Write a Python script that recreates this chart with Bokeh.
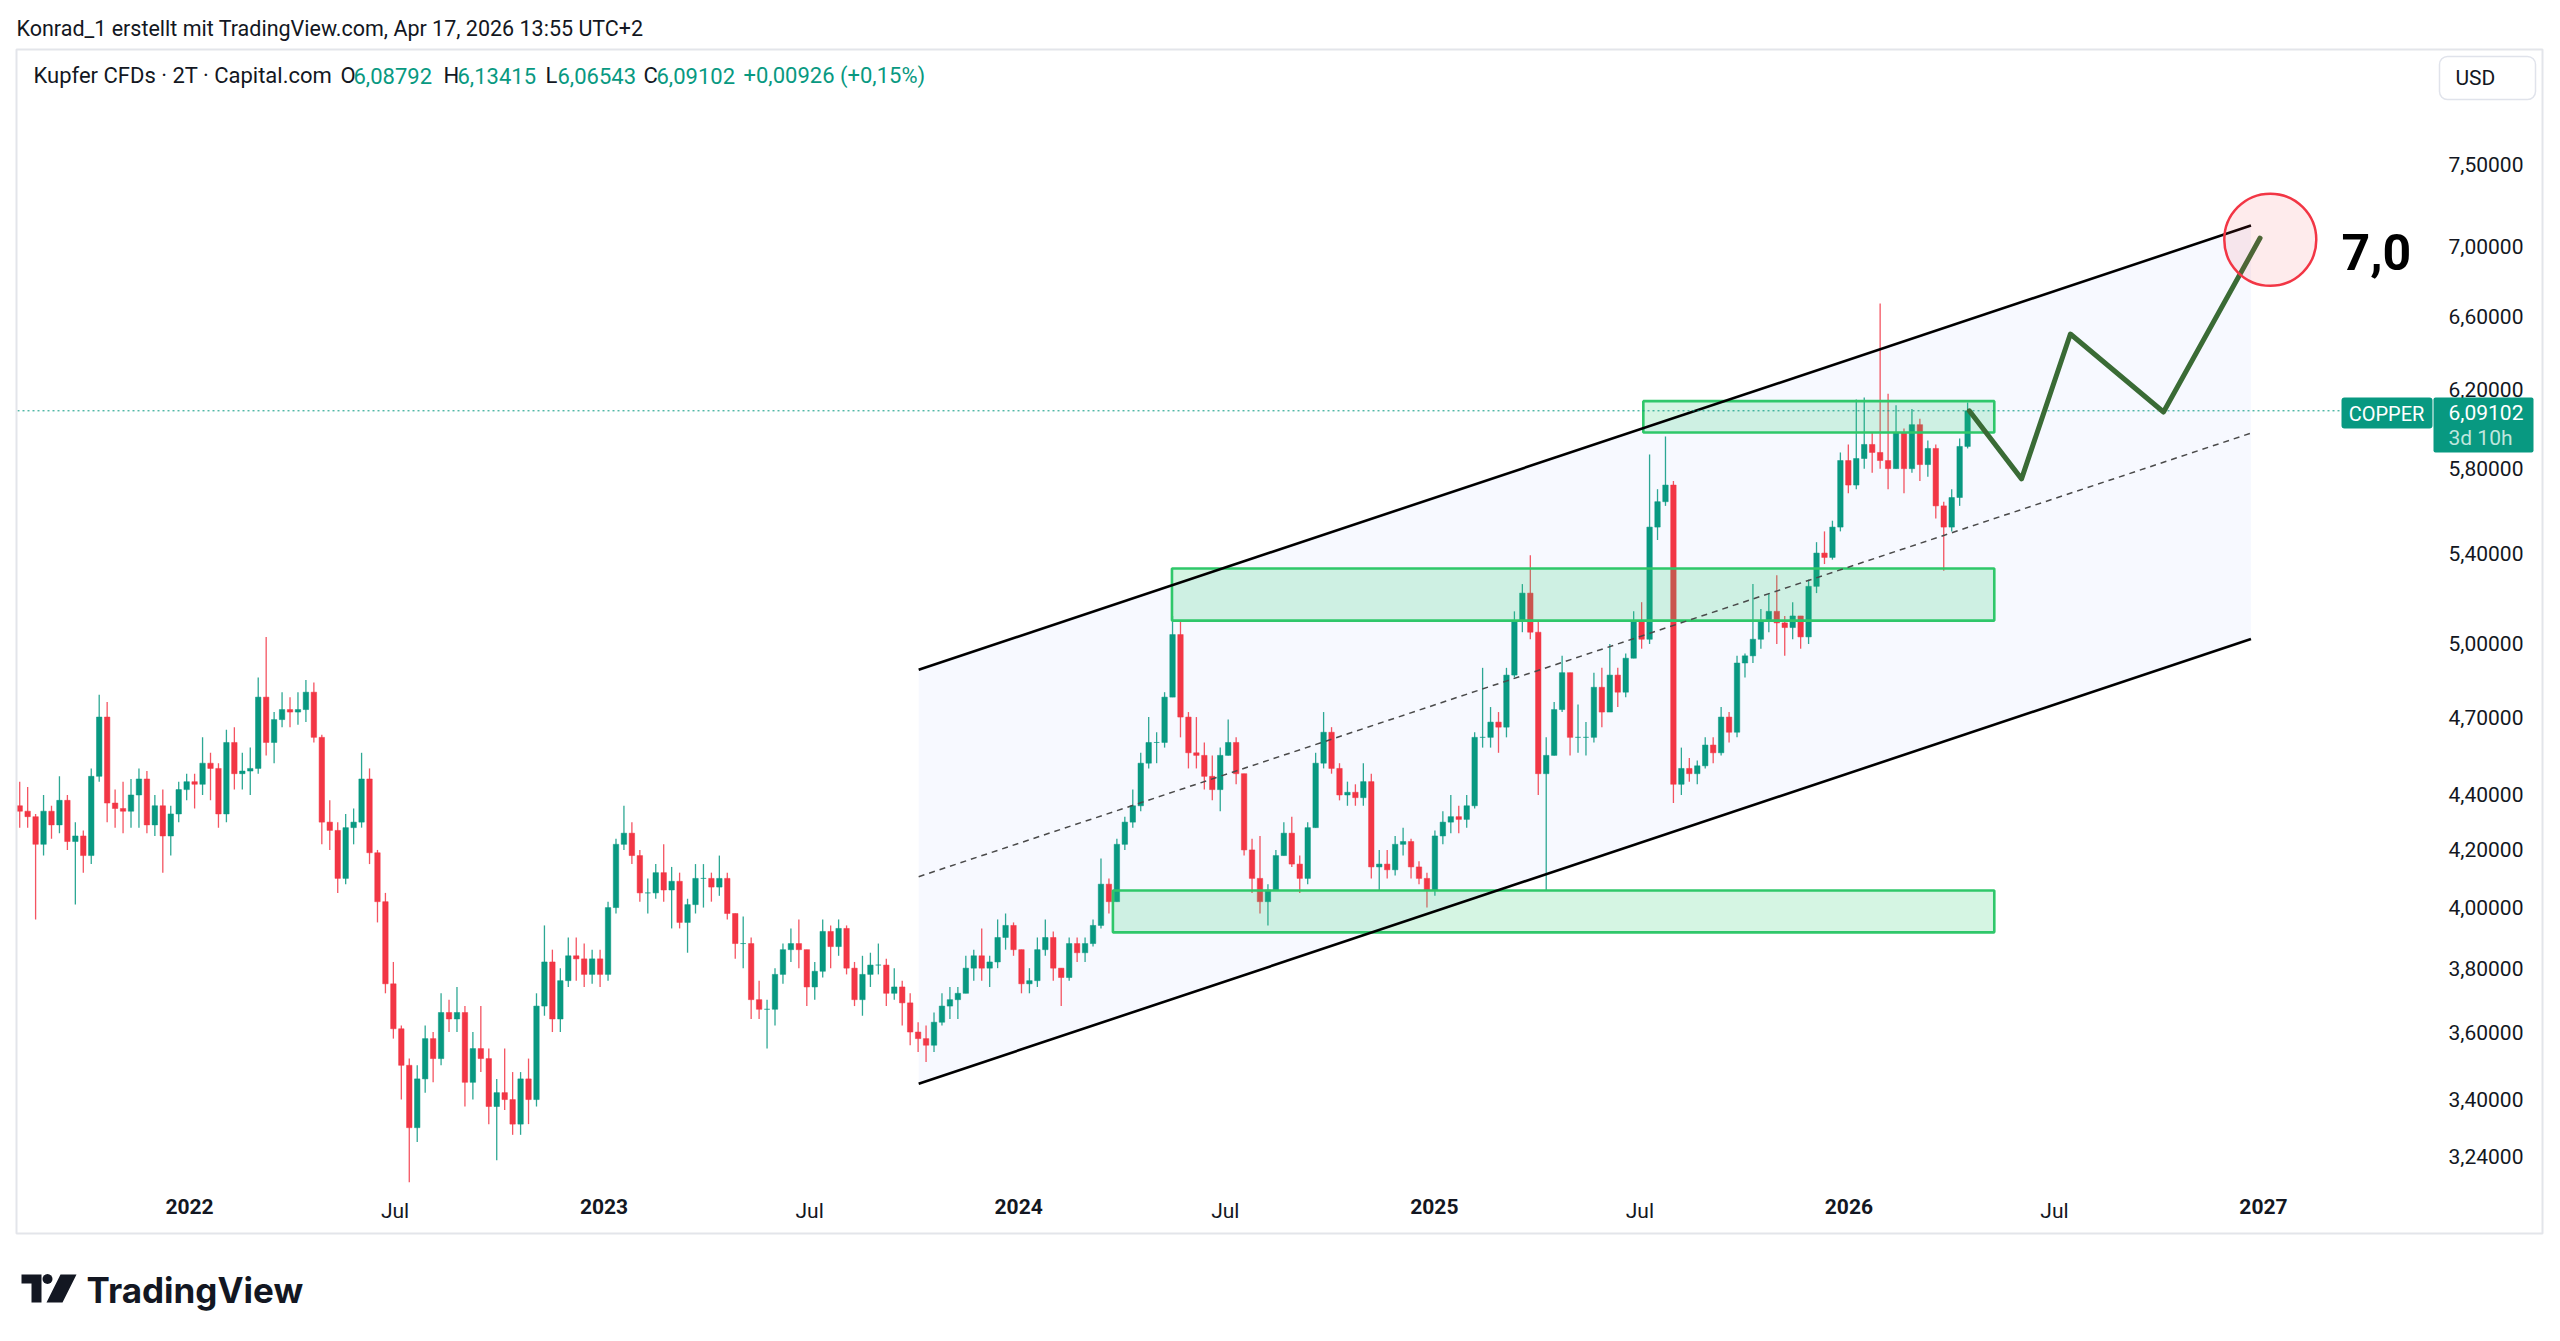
import math
import pandas as pd
from bokeh.plotting import figure
from bokeh.models import (Range1d, FixedTicker, CustomJSTickFormatter, DatetimeAxis, Label,
                          BoxAnnotation, PolyAnnotation, ColumnDataSource)
from bokeh.embed import file_html
from bokeh.resources import INLINE

# ---------------- texts ----------------
header_text = "Konrad_1 erstellt mit TradingView.com, Apr 17, 2026 13:55 UTC+2"
symbol_title = "Kupfer CFDs · 2T · Capital.com"
ticker_name = "COPPER"
bar_countdown = "3d 10h"
currency = "USD"

# ---------------- weekly copper candles (USD) ----------------
week_start = "2021-08-02"          # Monday of the first weekly candle
first_open = 4.36

close_2021 = [4.34, 4.32, 4.22, 4.34, 4.29, 4.38, 4.23, 4.25, 4.18, 4.47, 4.70, 4.37, 4.35, 4.34,
              4.40, 4.46, 4.29, 4.36, 4.25, 4.33, 4.42, 4.45]
high_2021 = [4.45, 4.43, 4.33, 4.40, 4.36, 4.47, 4.40, 4.30, 4.27, 4.50, 4.79, 4.76, 4.42, 4.45,
             4.46, 4.50, 4.49, 4.40, 4.42, 4.36, 4.45, 4.48]
low_2021 = [4.28, 4.28, 3.96, 4.18, 4.24, 4.26, 4.20, 4.01, 4.12, 4.15, 4.45, 4.30, 4.28, 4.26,
            4.28, 4.28, 4.26, 4.25, 4.12, 4.18, 4.30, 4.38]

close_2022 = [4.44, 4.52, 4.50, 4.33, 4.60, 4.48, 4.49, 4.50, 4.78, 4.60, 4.69, 4.73, 4.72, 4.73,
              4.80, 4.62, 4.30, 4.27, 4.10, 4.28, 4.30, 4.46, 4.19, 4.02, 3.75, 3.61, 3.50, 3.32,
              3.46, 3.58, 3.52, 3.66, 3.64, 3.66, 3.45, 3.55, 3.52, 3.38, 3.42, 3.40, 3.33, 3.46,
              3.40, 3.68, 3.82, 3.64, 3.76, 3.84, 3.83, 3.78, 3.83, 3.78]
high_2022 = [4.48, 4.62, 4.56, 4.52, 4.65, 4.66, 4.56, 4.58, 4.86, 5.03, 4.72, 4.80, 4.78, 4.80,
             4.85, 4.84, 4.63, 4.38, 4.30, 4.33, 4.35, 4.56, 4.50, 4.20, 4.05, 3.82, 3.62, 3.52,
             3.50, 3.62, 3.60, 3.72, 3.70, 3.74, 3.68, 3.60, 3.68, 3.55, 3.46, 3.55, 3.48, 3.48,
             3.52, 3.72, 3.94, 3.86, 3.80, 3.90, 3.90, 3.88, 3.86, 3.86]
low_2022 = [4.35, 4.40, 4.38, 4.28, 4.30, 4.42, 4.42, 4.40, 4.48, 4.55, 4.52, 4.66, 4.66, 4.67,
            4.68, 4.60, 4.22, 4.20, 4.05, 4.08, 4.22, 4.28, 4.15, 3.95, 3.72, 3.58, 3.40, 3.17,
            3.28, 3.42, 3.45, 3.50, 3.60, 3.60, 3.38, 3.40, 3.48, 3.33, 3.23, 3.37, 3.30, 3.30,
            3.33, 3.38, 3.65, 3.60, 3.60, 3.74, 3.76, 3.74, 3.75, 3.74]

close_2023 = [4.00, 4.22, 4.26, 4.18, 4.05, 4.05, 4.12, 4.06, 4.09, 3.95, 4.01, 4.10, 4.10, 4.07,
              4.10, 3.98, 3.88, 3.88, 3.70, 3.67, 3.67, 3.78, 3.86, 3.88, 3.86, 3.74, 3.79, 3.92,
              3.87, 3.93, 3.80, 3.70, 3.78, 3.81, 3.81, 3.72, 3.74, 3.69, 3.60, 3.58, 3.56, 3.63,
              3.68, 3.70, 3.72, 3.80, 3.84, 3.80, 3.82, 3.90, 3.94, 3.86]
high_2023 = [4.02, 4.24, 4.36, 4.30, 4.20, 4.10, 4.15, 4.22, 4.14, 4.12, 4.03, 4.15, 4.15, 4.12,
             4.18, 4.12, 3.98, 3.97, 3.90, 3.76, 3.70, 3.80, 3.88, 3.93, 3.96, 3.86, 3.82, 3.96,
             3.94, 3.96, 3.94, 3.82, 3.84, 3.85, 3.88, 3.83, 3.80, 3.76, 3.72, 3.63, 3.62, 3.66,
             3.72, 3.74, 3.74, 3.84, 3.86, 3.93, 3.84, 3.96, 3.98, 3.95]
low_2023 = [3.76, 3.98, 4.20, 4.15, 4.02, 3.98, 4.03, 4.02, 3.93, 3.93, 3.85, 3.98, 4.00, 4.02,
            4.04, 3.96, 3.83, 3.80, 3.64, 3.64, 3.55, 3.62, 3.75, 3.82, 3.80, 3.68, 3.70, 3.77,
            3.80, 3.84, 3.78, 3.68, 3.65, 3.74, 3.78, 3.68, 3.70, 3.62, 3.56, 3.54, 3.51, 3.54,
            3.62, 3.64, 3.64, 3.72, 3.76, 3.76, 3.74, 3.80, 3.86, 3.84]

close_2024 = [3.75, 3.76, 3.86, 3.90, 3.80, 3.77, 3.88, 3.85, 3.88, 3.94, 4.08, 4.02, 4.22, 4.30,
              4.36, 4.52, 4.60, 4.60, 4.78, 5.04, 4.70, 4.56, 4.55, 4.47, 4.42, 4.55, 4.60, 4.48,
              4.20, 4.10, 4.02, 4.06, 4.18, 4.26, 4.15, 4.10, 4.28, 4.52, 4.64, 4.50, 4.40, 4.41,
              4.39, 4.45, 4.14, 4.15, 4.13, 4.22, 4.23, 4.14, 4.10, 4.06, 4.25]
high_2024 = [3.86, 3.80, 3.90, 3.96, 3.92, 3.80, 3.90, 3.90, 3.90, 3.96, 4.17, 4.10, 4.24, 4.32,
             4.42, 4.56, 4.70, 4.64, 4.80, 5.12, 5.10, 4.72, 4.70, 4.60, 4.55, 4.58, 4.69, 4.62,
             4.48, 4.24, 4.25, 4.08, 4.20, 4.30, 4.32, 4.18, 4.30, 4.56, 4.72, 4.66, 4.52, 4.45,
             4.44, 4.52, 4.48, 4.20, 4.20, 4.25, 4.28, 4.24, 4.16, 4.12, 4.27]
low_2024 = [3.72, 3.72, 3.74, 3.84, 3.76, 3.68, 3.76, 3.82, 3.82, 3.87, 3.93, 3.98, 4.02, 4.20,
            4.28, 4.34, 4.50, 4.52, 4.58, 4.78, 4.62, 4.50, 4.50, 4.42, 4.38, 4.34, 4.55, 4.44,
            4.18, 4.05, 3.98, 3.94, 4.06, 4.18, 4.14, 4.05, 4.08, 4.30, 4.50, 4.48, 4.38, 4.36,
            4.36, 4.36, 4.10, 4.06, 4.10, 4.11, 4.18, 4.10, 4.08, 4.00, 4.04]

close_2025 = [4.30, 4.32, 4.31, 4.36, 4.62, 4.62, 4.68, 4.66, 4.87, 5.10, 5.22, 5.05, 4.48, 4.55,
              4.73, 4.88, 4.62, 4.62, 4.62, 4.82, 4.72, 4.87, 4.80, 4.94, 5.10, 5.02, 5.52, 5.64,
              5.72, 4.44, 4.50, 4.48, 4.51, 4.59, 4.56, 4.70, 4.64, 4.92, 4.95, 5.02, 5.10, 5.14,
              5.09, 5.07, 5.12, 5.03, 5.25, 5.40, 5.38, 5.52, 5.84, 5.72]
high_2025 = [4.34, 4.40, 4.36, 4.40, 4.64, 4.90, 4.74, 4.72, 4.90, 5.14, 5.26, 5.39, 5.10, 4.62,
             4.76, 4.95, 4.88, 4.75, 4.68, 4.88, 4.90, 5.00, 4.90, 4.96, 5.14, 5.18, 5.87, 5.70,
             5.96, 5.74, 4.58, 4.54, 4.53, 4.62, 4.62, 4.74, 4.72, 4.95, 4.96, 5.26, 5.15, 5.22,
             5.30, 5.12, 5.18, 5.10, 5.28, 5.45, 5.50, 5.55, 5.88, 5.92]
low_2025 = [4.22, 4.26, 4.26, 4.28, 4.35, 4.58, 4.58, 4.56, 4.62, 4.86, 5.05, 5.02, 4.40, 4.06,
            4.56, 4.72, 4.55, 4.56, 4.55, 4.60, 4.66, 4.72, 4.74, 4.78, 4.94, 4.98, 5.00, 5.46,
            5.62, 4.37, 4.40, 4.45, 4.44, 4.50, 4.52, 4.55, 4.60, 4.62, 4.86, 4.92, 4.98, 5.05,
            5.00, 4.95, 5.02, 4.98, 5.00, 5.22, 5.35, 5.37, 5.50, 5.68]

close_2026 = [5.85, 5.92, 5.88, 5.84, 5.80, 5.98, 5.80, 6.02, 5.82, 5.90, 5.62, 5.52, 5.66, 5.91,
              6.09102]
high_2026 = [6.15, 6.16, 5.98, 6.67, 6.18, 6.12, 6.00, 6.10, 6.05, 5.94, 5.92, 5.64, 5.70, 5.95,
             6.13415]
low_2026 = [5.70, 5.80, 5.78, 5.80, 5.70, 5.80, 5.68, 5.78, 5.74, 5.76, 5.56, 5.32, 5.50, 5.62,
            5.90]

# values of the current 2-day bar shown in the legend
last_open, last_high, last_low, last_close = 6.08792, 6.13415, 6.06543, 6.09102
change_abs, change_pct = 0.00926, 0.15

# ---------------- axis ticks ----------------
price_ticks = [3.24, 3.40, 3.60, 3.80, 4.00, 4.20, 4.40, 4.70, 5.00, 5.40, 5.80, 6.20, 6.60, 7.00, 7.50]
year_ticks = ["2022-01-01", "2023-01-01", "2024-01-01", "2025-01-01", "2026-01-01", "2027-01-01"]
mid_year_ticks = ["2022-07-01", "2023-07-01", "2024-07-01", "2025-07-01", "2026-07-01"]

# ---------------- drawings ----------------
channel_dates = ["2023-10-05", "2026-12-21"]
channel_upper = [4.892, 7.125]
channel_lower = [3.446, 5.021]
channel_mid = [4.106, 5.977]

zone_start = ["2025-07-04", "2024-05-15", "2024-03-24"]
zone_end = ["2026-05-09", "2026-05-09", "2026-05-09"]
zone_top = [6.141, 5.330, 4.058]
zone_bottom = [5.980, 5.100, 3.917]

path_dates = ["2026-04-17", "2026-06-02", "2026-07-15", "2026-10-05", "2026-12-29"]
path_prices = [6.09102, 5.75, 6.50, 6.085, 7.05]

target_date = "2027-01-07"
target_price = 7.04
target_label = "7,0"

# ---------------- layout ----------------
# The plot frame fills the whole page; the axes draw their labels back inside it
W, H = 2560, 1341
X2022, PX_DAY = 189.0, 1.1358              # page x of 1 Jan 2022, pixels per day
Y0, KY = 2544.7, 1181.3                    # page y = Y0 - KY * ln(price)
PANE_LEFT = 17                             # left edge of the chart pane
TIME_LABEL_TOP = 1198                      # page y of the top of the date labels
PRICE_LABEL_LEFT = 2448                    # page x where the price labels start

UP, DOWN = "#089981", "#f23645"
INK = "#131722"
FONT = "Roboto"
EPOCH = pd.Timestamp("2022-01-01")


def ms(ts):
    return pd.Timestamp(ts).value / 1e6


def x_at(px):
    return ms(EPOCH + pd.Timedelta(days=(px - X2022) / PX_DAY))


def price_at(py):
    return math.exp((Y0 - py) / KY)


def sx(px):
    return px


def sy(py):
    return H - py


p = figure(width=W, height=H, x_axis_type="datetime", y_axis_type="log", y_axis_location="right",
           x_range=Range1d(x_at(0), x_at(W)), y_range=Range1d(price_at(H), price_at(0)),
           output_backend="svg", toolbar_location=None,
           min_border_left=0, min_border_right=0, min_border_top=0, min_border_bottom=0,
           background_fill_color="white", border_fill_color="white")
p.outline_line_color = None
p.grid.visible = False

# ---- price axis ----
ya = p.yaxis[0]
ya.ticker = FixedTicker(ticks=price_ticks, minor_ticks=[])
ya.formatter = CustomJSTickFormatter(code="return tick.toFixed(5).replace('.', ',');")
ya.axis_line_color = None
ya.major_tick_line_color = None
ya.minor_tick_line_color = None
ya.major_tick_out = 0
ya.major_tick_in = 0
ya.major_label_standoff = PRICE_LABEL_LEFT - W
ya.major_label_text_font = FONT
ya.major_label_text_font_size = "21px"
ya.major_label_text_color = INK

# ---- time axis: years (bold) and mid-year months ----
xa = p.xaxis[0]
xa.ticker = FixedTicker(ticks=[ms(t) for t in year_ticks], minor_ticks=[])
xa.formatter = CustomJSTickFormatter(code="return String(new Date(tick).getUTCFullYear());")
xa.axis_line_color = None
xa.major_tick_line_color = None
xa.minor_tick_line_color = None
xa.major_tick_out = 0
xa.major_tick_in = 0
xa.major_label_standoff = TIME_LABEL_TOP - H
xa.major_label_text_font = FONT
xa.major_label_text_font_size = "21px"
xa.major_label_text_color = INK
xa.major_label_text_font_style = "bold"

ma = DatetimeAxis(ticker=FixedTicker(ticks=[ms(t) for t in mid_year_ticks], minor_ticks=[]),
                  formatter=CustomJSTickFormatter(
                      code="return ['Jan','Feb','Mar','Apr','May','Jun','Jul','Aug','Sep','Oct','Nov','Dec'][new Date(tick).getUTCMonth()];"),
                  axis_line_color=None, major_tick_line_color=None, minor_tick_line_color=None,
                  major_tick_out=0, major_tick_in=0, major_label_standoff=TIME_LABEL_TOP - H,
                  major_label_text_font=FONT, major_label_text_font_size="21px",
                  major_label_text_color=INK)
p.add_layout(ma, "below")

# ---- channel background ----
cd = [ms(d) for d in channel_dates]
p.patch(x=[cd[0], cd[1], cd[1], cd[0]],
        y=[channel_upper[0], channel_upper[1], channel_lower[1], channel_lower[0]],
        fill_color="#2962ff", fill_alpha=0.035, line_color=None)

# ---- candles ----
closes = close_2021 + close_2022 + close_2023 + close_2024 + close_2025 + close_2026
highs = high_2021 + high_2022 + high_2023 + high_2024 + high_2025 + high_2026
lows = low_2021 + low_2022 + low_2023 + low_2024 + low_2025 + low_2026
opens = [first_open] + closes[:-1]
centers = pd.date_range(week_start, periods=len(closes), freq="7D") + pd.Timedelta(hours=60)
src = ColumnDataSource(dict(
    t=centers,
    high=[max(h, o, c) for h, o, c in zip(highs, opens, closes)],
    low=[min(l, o, c) for l, o, c in zip(lows, opens, closes)],
    top=[max(o, c) for o, c in zip(opens, closes)],
    bottom=[min(o, c) for o, c in zip(opens, closes)],
    color=[UP if c >= o else DOWN for o, c in zip(opens, closes)],
))
p.segment(x0="t", y0="low", x1="t", y1="high", line_color="color", line_width=1.3, line_alpha=0.85, source=src)
p.vbar(x="t", width=4.8 * 86400000, top="top", bottom="bottom", fill_color="color",
       line_color="color", line_width=0.5, source=src)

# ---- support / resistance zones ----
p.quad(left=[ms(d) for d in zone_start], right=[ms(d) for d in zone_end],
       top=zone_top, bottom=zone_bottom,
       fill_color="#2ecc71", fill_alpha=0.2, line_color="#2fc76a", line_width=2.6)

# ---- channel lines ----
p.line(x=cd, y=channel_upper, line_color="black", line_width=2.6)
p.line(x=cd, y=channel_lower, line_color="black", line_width=2.6)
p.line(x=cd, y=channel_mid, line_color="#4a4a4a", line_width=1.5, line_dash="6 5")

# ---- last price line (up to the price tag) ----
p.line(x=[x_at(PANE_LEFT), x_at(2341)], y=[last_close, last_close], line_color=UP,
       line_width=1, line_dash="2 3")

# ---- projected path and target ----
p.line(x=[ms(d) for d in path_dates], y=path_prices, line_color="#3a6b35", line_width=5,
       line_cap="round", line_join="round")
p.scatter(x=[ms(target_date)], y=[target_price], marker="circle", size=92,
          fill_color=DOWN, fill_alpha=0.1, line_color=DOWN, line_width=2.5)
p.add_layout(Label(x=x_at(2341), y=price_at(251), text=target_label, text_font=FONT,
                   text_font_style="bold", text_font_size="50px", text_color="black",
                   text_baseline="middle", text_align="left"))

# ---- chart box ----
p.add_layout(BoxAnnotation(left=sx(16), right=sx(2542), top=sy(49), bottom=sy(1233),
                           left_units="screen", right_units="screen", top_units="screen",
                           bottom_units="screen", fill_color=None, line_color="#e3e5ea",
                           line_width=2, line_alpha=1))

# ---- header and legend ----
p.add_layout(Label(x=sx(16), y=sy(28), x_units="screen", y_units="screen", text=header_text,
                   text_font=FONT, text_font_size="21.5px", text_color=INK, text_baseline="middle"))


def num(v, d=5):
    return f"{v:.{d}f}".replace(".", ",")


legend_parts = [
    (33, symbol_title, INK),
    (340, "O", INK), (353, num(last_open), UP),
    (443, "H", INK), (457, num(last_high), UP),
    (545, "L", INK), (557, num(last_low), UP),
    (643, "C", INK), (656, num(last_close), UP),
    (743, f"+{num(change_abs)} (+{num(change_pct, 2)}%)", UP),
]
for px, txt, col in legend_parts:
    p.add_layout(Label(x=sx(px), y=sy(75), x_units="screen", y_units="screen", text=txt,
                       text_font=FONT, text_font_size="22px", text_color=col, text_baseline="middle"))

# ---- currency button ----
p.add_layout(BoxAnnotation(left=sx(2439), right=sx(2535), top=sy(56), bottom=sy(99),
                           left_units="screen", right_units="screen", top_units="screen",
                           bottom_units="screen", fill_color="white", fill_alpha=1,
                           line_color="#e0e3eb", line_width=1.5, line_alpha=1, border_radius=8))
p.add_layout(Label(x=sx(2455), y=sy(77), x_units="screen", y_units="screen", text=currency,
                   text_font=FONT, text_font_size="21px", text_color=INK, text_baseline="middle"))

# ---- last price tags ----
p.add_layout(BoxAnnotation(left=sx(2341), right=sx(2432), top=sy(397), bottom=sy(428),
                           left_units="screen", right_units="screen", top_units="screen",
                           bottom_units="screen", fill_color=UP, fill_alpha=1, line_color=None,
                           border_radius=3))
p.add_layout(BoxAnnotation(left=sx(2433), right=sx(2533), top=sy(397), bottom=sy(452),
                           left_units="screen", right_units="screen", top_units="screen",
                           bottom_units="screen", fill_color=UP, fill_alpha=1, line_color=None,
                           border_radius=2))
p.add_layout(Label(x=sx(2386), y=sy(413), x_units="screen", y_units="screen", text=ticker_name,
                   text_font=FONT, text_font_size="20px", text_color="white",
                   text_baseline="middle", text_align="center"))
p.add_layout(Label(x=sx(2448), y=sy(412), x_units="screen", y_units="screen", text=num(last_close),
                   text_font=FONT, text_font_size="21px", text_color="white", text_baseline="middle"))
p.add_layout(Label(x=sx(2448), y=sy(437), x_units="screen", y_units="screen", text=bar_countdown,
                   text_font=FONT, text_font_size="21px", text_color="#bfe6de", text_baseline="middle"))

# ---- TradingView wordmark ----
p.add_layout(PolyAnnotation(xs=[sx(v) for v in [21, 41, 41, 31, 31, 21]],
                            ys=[sy(v) for v in [1274, 1274, 1302, 1302, 1283, 1283]],
                            xs_units="screen", ys_units="screen", fill_color=INK, fill_alpha=1,
                            line_color=None))
dot = [(47 + 5 * math.cos(a * math.pi / 8), 1278.5 + 5 * math.sin(a * math.pi / 8)) for a in range(16)]
p.add_layout(PolyAnnotation(xs=[sx(a) for a, _ in dot], ys=[sy(b) for _, b in dot],
                            xs_units="screen", ys_units="screen", fill_color=INK, fill_alpha=1,
                            line_color=None))
p.add_layout(PolyAnnotation(xs=[sx(v) for v in [60, 76, 62, 46]],
                            ys=[sy(v) for v in [1274, 1274, 1302, 1302]],
                            xs_units="screen", ys_units="screen", fill_color=INK, fill_alpha=1,
                            line_color=None))
p.add_layout(Label(x=sx(86), y=sy(1289), x_units="screen", y_units="screen", text="TradingView",
                   text_font="Inter", text_font_style="bold", text_font_size="35px",
                   text_color=INK, text_baseline="middle"))

open("out.html", "w").write(file_html(p, INLINE))
